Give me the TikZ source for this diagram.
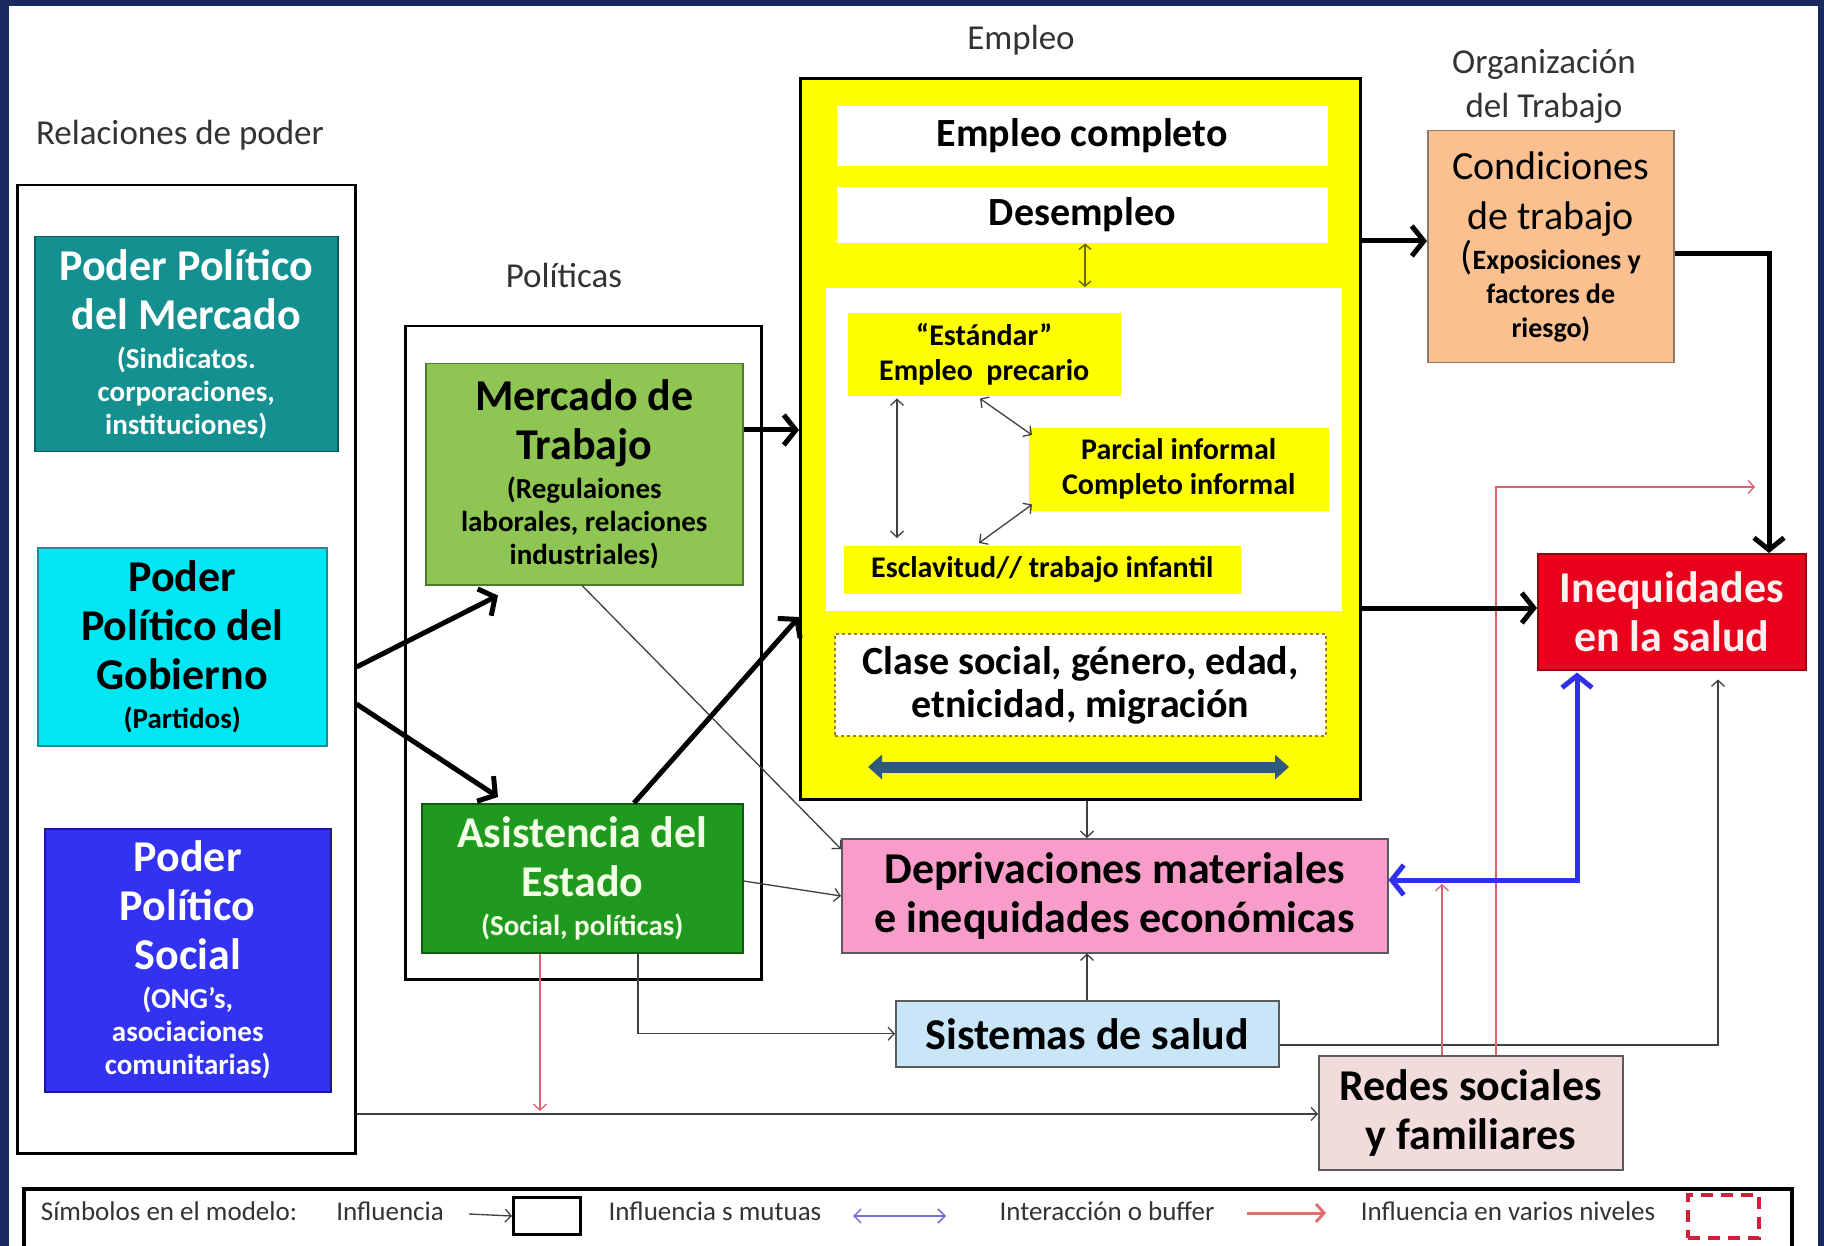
\documentclass[tikz,border=0pt]{standalone}
\usepackage{fontspec}
\setmainfont{Carlito}
\usetikzlibrary{arrows.meta,calc}
\definecolor{cNavy}{HTML}{1B2A5E}
\definecolor{cTeal}{HTML}{13908F}
\definecolor{cTealB}{HTML}{0B5F5F}
\definecolor{cCyan}{HTML}{00E6F2}
\definecolor{cCyanB}{HTML}{1A8F98}
\definecolor{cBlue}{HTML}{3232F0}
\definecolor{cBlueB}{HTML}{1A1A8A}
\definecolor{cLGreen}{HTML}{8FC552}
\definecolor{cLGreenB}{HTML}{4F7A2A}
\definecolor{cGreen}{HTML}{1F9A1F}
\definecolor{cGreenB}{HTML}{0E5A0E}
\definecolor{cGreenT}{HTML}{F2FFE6}
\definecolor{cYellow}{HTML}{FFFF00}
\definecolor{cPeach}{HTML}{FAC090}
\definecolor{cPeachB}{HTML}{8A7A6A}
\definecolor{cRed}{HTML}{E8001C}
\definecolor{cRedB}{HTML}{A00010}
\definecolor{cRedT}{HTML}{FFF0F0}
\definecolor{cPink}{HTML}{F89CC9}
\definecolor{cLBlue}{HTML}{C8E6F8}
\definecolor{cRose}{HTML}{F2DCDB}
\definecolor{cBoxB}{HTML}{5A5A5A}
\definecolor{cLabel}{HTML}{333333}
\definecolor{cThin}{HTML}{404040}
\definecolor{cRedLine}{HTML}{E06070}
\definecolor{cBlueLine}{HTML}{2F2FF0}
\definecolor{cOlive}{HTML}{6A6A00}
\definecolor{cDash}{HTML}{A08020}
\definecolor{cSteel}{HTML}{2E5B7B}
\definecolor{cLegBlue}{HTML}{7070E0}
\definecolor{cLegRed}{HTML}{E07070}
\definecolor{cLegDash}{HTML}{D0203A}
\newcommand\szA{\fontsize{44}{49}\selectfont}
\newcommand\szB{\fontsize{29}{33}\selectfont}
\newcommand\szC{\fontsize{40}{46}\selectfont}
\newcommand\szD{\fontsize{30}{35}\selectfont}
\newcommand\szE{\fontsize{40}{43}\selectfont}
\newcommand\szL{\fontsize{35}{44}\selectfont}
\newcommand\szG{\fontsize{27}{30}\selectfont}
\newcommand\szH{\fontsize{28}{34}\selectfont}
\newcommand\boxstart{\centering\spaceskip=0pt\relax}
\begin{document}
\begin{tikzpicture}[x=1pt,y=-1pt,
  box/.style={anchor=north west, inner sep=0pt, align=center, draw=cBoxB, line width=1.5pt, font=\bfseries},
  frame/.style={anchor=north west, inner sep=0pt, draw=black, line width=2.5pt},
  lbl/.style={inner sep=0pt, text=cLabel, font=\szL, align=center},
  legtxt/.style={inner sep=0pt, text=cLabel, font=\szG},
  thickarr/.style={line width=5pt, -{Straight Barb[length=12pt,width=30pt]}},
  thinarr/.style={line width=1.3pt, draw=cThin, -{Straight Barb[length=6pt,width=13pt]}},
  thinbi/.style={line width=1.3pt, draw=cThin, {Straight Barb[length=6pt,width=13pt]}-{Straight Barb[length=6pt,width=13pt]}},
  redarr/.style={line width=1.3pt, draw=cRedLine, -{Straight Barb[length=6pt,width=13pt]}},
  bluebi/.style={line width=5pt, draw=cBlueLine, {Straight Barb[length=12pt,width=30pt]}-{Straight Barb[length=12pt,width=30pt]}}
]
\useasboundingbox (0,0) rectangle (1824,1246);
\clip (0,0) rectangle (1824,1246);
\fill[cNavy] (0,0) rectangle (1824,1246);
\fill[white] (9,6) rectangle (1818,1246);

% labels
\node[lbl] (lRel) at (180,135) {Relaciones de poder};
\node[lbl] (lPol) at (564,275) {Políticas};
\node[lbl] (lEmp) at (1021,40) {Empleo};
\node[lbl] (lOrg) at (1544,86) {Organización\\del Trabajo};

% power relations
\node[frame, minimum width=338pt, minimum height=968pt] (rel) at (16,184) {};
\node[box, fill=cTeal, draw=cTealB, text=white, minimum width=303pt, minimum height=215pt, text width=295pt] (pmer) at (34,236)
  {\boxstart{\szA Poder Político\\del Mercado\par}\vspace{6pt}\noindent{\szB (Sindicatos.\\corporaciones,\\instituciones)\par}};
\node[box, fill=cCyan, draw=cCyanB, minimum width=289pt, minimum height=198pt, text width=281pt] (pgob) at (37,547)
  {\boxstart{\szA Poder\\Político del\\Gobierno\par}\vspace{6pt}\noindent{\szB (Partidos)\par}};
\node[box, fill=cBlue, draw=cBlueB, text=white, minimum width=286pt, minimum height=263pt, text width=278pt] (psoc) at (44,828)
  {\boxstart{\szA Poder\\Político\\Social\par}\vspace{6pt}\noindent{\szB (ONG’s,\\asociaciones\\comunitarias)\par}};

% policies
\node[frame, minimum width=356pt, minimum height=653pt] (pol) at (404,325) {};
\node[box, fill=cLGreen, draw=cLGreenB, minimum width=317pt, minimum height=221pt, text width=309pt] (mt) at (425,363)
  {\boxstart{\szA Mercado de\\Trabajo\par}\vspace{6pt}\noindent{\szB (Regulaiones\\laborales, relaciones\\industriales)\par}};
\node[box, fill=cGreen, draw=cGreenB, text=cGreenT, minimum width=321pt, minimum height=149pt, text width=313pt] (ae) at (421,803)
  {\boxstart{\szA Asistencia del\\Estado\par}\vspace{6pt}\noindent{\szB (Social, políticas)\par}};

% employment
\node[frame, fill=cYellow, line width=3pt, minimum width=560pt, minimum height=721pt] (emp) at (799,77) {};
\node[box, draw=none, fill=white, font=\bfseries\szC, minimum width=491pt, minimum height=60pt] (ec) at (836,105) {Empleo completo};
\node[box, draw=none, fill=white, font=\bfseries\szC, minimum width=491pt, minimum height=56pt] (des) at (836,186) {Desempleo};
\node[box, draw=none, fill=white, minimum width=516pt, minimum height=323pt] (inner) at (825,287) {};
\node[box, draw=none, fill=cYellow, font=\bfseries\szD, minimum width=273pt, minimum height=83pt] (est) at (847,312) {“Estándar”\\Empleo\ \ precario};
\node[box, draw=none, fill=cYellow, font=\bfseries\szD, minimum width=300pt, minimum height=83pt] (par) at (1028,427) {Parcial informal\\Completo informal};
\node[box, draw=none, fill=cYellow, font=\bfseries\szD, minimum width=397pt, minimum height=48pt] (esc) at (843,545) {Esclavitud// trabajo infantil};
\node[box, fill=white, draw=cDash, dash pattern=on 3pt off 3pt, line width=2pt, font=\bfseries\szE, minimum width=491pt, minimum height=102pt] (cls) at (834,633) {Clase social, género, edad,\\etnicidad, migración};
\coordinate (dblL) at (868,767);
\coordinate (dblR) at (1289,767);
\draw[line width=11pt, draw=cSteel, {Triangle[length=14pt,width=24pt]}-{Triangle[length=14pt,width=24pt]}] (dblL) -- (dblR);

% right side
\node[box, fill=cPeach, draw=cPeachB, font=\mdseries, minimum width=246pt, minimum height=232pt, text width=240pt] (cond) at (1427,130)
  {\boxstart{\fontsize{40}{50}\selectfont Condiciones\\de trabajo\par}\vspace{3pt}\noindent{\szH{\fontsize{40}{34}\selectfont(}\bfseries Exposiciones y\\factores de\\riesgo)\par}};
\node[box, fill=cRed, draw=cRedB, text=cRedT, font=\bfseries\szA, minimum width=268pt, minimum height=116pt] (ineq) at (1537,553) {Inequidades\\en la salud};
\node[box, fill=cPink, draw=cBoxB, font=\bfseries\szA, minimum width=546pt, minimum height=114pt] (dep) at (841,838) {Deprivaciones materiales\\e inequidades económicas};
\node[box, fill=cLBlue, draw=cBoxB, font=\bfseries\szA, minimum width=383pt, minimum height=66pt] (sis) at (895,1000) {Sistemas de salud};
\node[box, fill=cRose, draw=cBoxB, font=\bfseries\szA, minimum width=304pt, minimum height=114pt] (redes) at (1318,1055) {Redes sociales\\y familiares};

% inner employment arrows
\draw[line width=1.5pt, draw=cOlive, {Straight Barb[length=5pt,width=12pt]}-{Straight Barb[length=5pt,width=12pt]}] (des.south -| 1085,0) -- (inner.north -| 1085,0);
\draw[thinbi] ($(est.south west)+(50,2)$) -- ($(esc.north west)+(54,-7)$);
\draw[thinbi] ($(est.south west)+(133,2)$) -- ($(par.north west)+(4,8)$);
\draw[thinbi] ($(par.south west)+(4,-7)$) -- ($(esc.north west)+(136,-2)$);

% thin connectors
\draw[thinarr] ($(mt.south west)+(157,0)$) -- ($(dep.north west)+(0,11)$);
\draw[thinarr] (ae.east |- 0,881) -- (dep.west |- 0,896);
\draw[thinarr] (emp.south -| 1087,0) -- (dep.north -| 1087,0);
\draw[thinarr] (sis.north -| 1087,0) -- (dep.south -| 1087,0);
\draw[thinarr] (ae.south -| 638,0) |- (sis.west);
\draw[thinarr] (rel.east |- 0,1114) -- (redes.west |- 0,1114);
\draw[thinarr] (sis.east |- 0,1045) -| ($(ineq.south west)+(181,9)$);

% red connectors
\coordinate (aeR) at (540,1111);
\draw[redarr] (ae.south -| aeR) -- (aeR);
\coordinate (bufB) at (1442,884);
\draw[redarr] (redes.north -| bufB) -- (bufB);
\coordinate (bufK) at (1755,487);
\draw[redarr] (redes.north -| 1496,0) |- (bufK);

% blue mutual influence
\draw[bluebi] (dep.east |- 0,880) -| ($(ineq.south west)+(40,2)$);

% thick connectors
\draw[thickarr] (mt.east |- 0,430) -- (emp.west |- 0,430);
\draw[thickarr] (rel.east |- 0,667) -- ($(mt.south west)+(73,10)$);
\draw[thickarr] (rel.east |- 0,704) -- ($(ae.north west)+(77,-6)$);
\draw[thickarr] ($(ae.north west)+(213,0)$) -- (emp.west |- 0,617);
\draw[thickarr] (emp.east |- 0,241) -- (cond.west |- 0,241);
\draw[thickarr] (cond.east |- 0,254) -| ($(ineq.north west)+(232,0)$);
\draw[thickarr] (emp.east |- 0,608) -- (ineq.west |- 0,608);

% legend
\node[frame, line width=4pt, minimum width=1768pt, minimum height=75pt] (leg) at (22,1187) {};
\node[legtxt] (lg1) at (169,1211) {Símbolos en el modelo:};
\node[legtxt] (lg2) at (390,1211) {Influencia};
\node[frame, line width=3pt, minimum width=67pt, minimum height=37pt] (lgbox) at (512,1196) {};
\coordinate (lgA) at (469,1214);
\draw[thinarr] (lgA) -- (lgbox.west);
\node[legtxt] (lg3) at (715,1211) {Influencia s mutuas};
\coordinate (lgB1) at (853,1216);
\coordinate (lgB2) at (946,1216);
\draw[line width=1.5pt, draw=cLegBlue, {Straight Barb[length=7pt,width=14pt]}-{Straight Barb[length=7pt,width=14pt]}] (lgB1) -- (lgB2);
\node[legtxt] (lg4) at (1107,1211) {Interacción o buffer};
\coordinate (lgR1) at (1247,1213);
\coordinate (lgR2) at (1326,1213);
\draw[line width=3pt, draw=cLegRed, -{Straight Barb[length=8pt,width=18pt]}] (lgR1) -- (lgR2);
\node[legtxt] (lg5) at (1508,1211) {Influencia en varios niveles};
\node[anchor=north west, draw=cLegDash, line width=4pt, dash pattern=on 12pt off 8pt, minimum width=71pt, minimum height=43pt, inner sep=0pt] (lgdash) at (1686,1193) {};
\end{tikzpicture}
\end{document}
